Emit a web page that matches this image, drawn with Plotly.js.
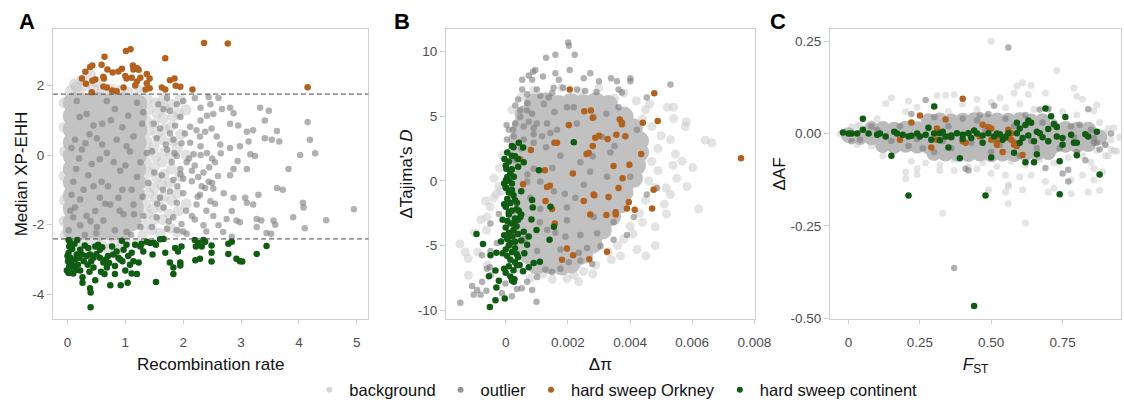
<!DOCTYPE html>
<html>
<head>
<meta charset="utf-8">
<script src="https://cdn.plot.ly/plotly-3.0.1.min.js"></script>
<style>html,body{margin:0;padding:0;background:#fff;}#chart{width:1124px;height:410px;}</style>
</head>
<body>
<div id="chart"></div>
<script>
// ---------- Panel A: recombination rate vs median XP-EHH ----------
const thrHighA = 1.75;
const thrLowA = -2.41;
const bgA_dense = [
[0.1,1.5],[0.32,1.48],[0.54,1.51],[0.76,1.49],[0.98,1.5],[1.2,1.46],
[0.1,1.12],[0.32,1.1],[0.54,1.13],[0.76,1.11],[0.98,1.08],[1.2,1.12],
[0.1,0.74],[0.32,0.72],[0.54,0.75],[0.76,0.73],[0.98,0.76],[1.2,0.72],
[0.1,0.36],[0.32,0.34],[0.54,0.38],[0.76,0.35],[0.98,0.37],[1.19,0.34],
[0.1,-0.02],[0.32,0.0],[0.54,-0.03],[0.76,-0.01],[0.98,-0.04],[1.19,-0.02],
[0.1,-0.4],[0.32,-0.38],[0.54,-0.41],[0.76,-0.39],[0.98,-0.42],[1.18,-0.4],
[0.1,-0.78],[0.32,-0.76],[0.54,-0.79],[0.76,-0.77],[0.98,-0.8],[1.18,-0.78],
[0.1,-1.16],[0.32,-1.14],[0.54,-1.17],[0.76,-1.15],[0.98,-1.18],[1.16,-1.14],
[0.1,-1.54],[0.32,-1.52],[0.54,-1.55],[0.76,-1.53],[0.97,-1.56],[1.14,-1.52],
[0.1,-1.92],[0.32,-1.9],[0.54,-1.93],[0.76,-1.91],[0.96,-1.94],[1.1,-1.9],
[0.1,-2.16],[0.32,-2.15],[0.54,-2.17],[0.76,-2.16],[0.94,-2.14]
];
const bgA_sparse = [
[1.38,1.6],[1.4,1.3],[1.36,1.0],[1.4,0.7],[1.37,0.4],[1.41,0.1],[1.36,-0.2],[1.4,-0.5],[1.36,-0.8],[1.4,-1.1],[1.35,-1.4],[1.38,-1.7],[1.34,-2.0],[1.3,-2.3],
[1.52,1.5],[1.55,1.2],[1.5,0.9],[1.54,0.6],[1.5,0.25],[1.53,-0.05],[1.5,-0.35],[1.54,-0.65],[1.5,-0.95],[1.52,-1.25],[1.48,-1.55],[1.5,-1.85],[1.46,-2.15],
[1.66,1.62],[1.68,1.35],[1.65,1.05],[1.68,0.75],[1.64,0.45],[1.68,0.1],[1.64,-0.2],[1.67,-0.55],[1.63,-0.85],[1.66,-1.2],[1.62,-1.5],[1.64,-1.85],[1.6,-2.25],
[1.8,1.45],[1.82,1.1],[1.78,0.8],[1.82,0.4],[1.78,0.0],[1.8,-0.4],[1.76,-0.8],[1.8,-1.3],[1.76,-1.7],[1.78,-2.1],
[1.95,1.6],[1.92,1.2],[1.96,0.6],[1.9,0.2],[1.94,-0.6],[1.9,-1.1],[1.92,-1.6],[1.9,-2.2],[2.05,1.3],[2.05,0.0],[2.05,-1.4],
[0.05,1.85],[0.15,1.95],[0.3,2.0],[0.45,1.9],[0.6,1.85],[0.75,1.9],[0.9,1.85],[0.25,2.15],[0.5,2.1],[0.2,1.8],[1.05,1.8],[0.4,2.3],[1.25,1.85],[0.12,2.05],
[0.2,-2.55],[0.4,-2.5],[0.6,-2.6],[0.8,-2.55],[1.0,-2.5],[0.3,-2.7],[0.1,-2.65],[0.7,-2.7],[1.2,-2.55],[0.5,-2.75],[0.9,-2.7],
[-0.06,1.5],[-0.06,0.8],[-0.05,0.1],[-0.06,-0.6],[-0.05,-1.3],[-0.06,-1.9],[-0.04,-2.3]
];
const outA = [
[2.2,1.64],[2.44,1.67],[2.61,1.64],[2.47,1.46],[2.3,1.36],[2.41,1.13],[2.3,0.99],[2.52,1.18],[2.67,1.32],[2.81,1.36],[2.87,1.2],[2.81,0.9],[2.95,0.85],
[3.1,0.67],[3.21,0.71],[3.33,1.36],[3.41,0.99],[3.48,1.27],[3.62,0.69],[3.53,0.44],[3.41,0.48],[3.66,0.39],[3.82,-0.4],[4.02,0.0],[4.15,0.95],[4.19,0.44],[4.28,0.05],
[2.64,0.3],[2.81,0.2],[2.98,0.25],[3.13,0.39],[3.16,0.02],[3.24,-0.03],[2.94,-0.17],[3.1,-0.4],[2.87,-0.4],[2.81,-0.58],[2.55,-0.21],[2.41,0.06],[2.3,0.0],[2.18,0.02],
[2.06,-0.21],[2.15,-0.45],[2.0,-0.68],[2.26,-0.63],[2.44,-0.77],[2.52,-0.96],[2.58,0.53],[2.49,0.76],[2.38,0.67],[2.29,0.53],[2.23,0.71],[2.12,0.81],[2.03,0.62],
[1.97,0.34],[1.83,0.44],[1.77,0.62],[1.86,0.85],[1.95,1.09],[1.77,1.27],[1.66,1.32],[1.89,1.46],[2.0,1.55],[1.57,1.46],[1.72,1.64],[1.49,0.9],[1.6,0.76],[1.54,0.48],
[1.46,0.11],[1.72,0.16],[1.89,-0.03],[1.95,-0.4],[1.83,-0.72],[1.63,-0.58],
[0.21,1.09],[0.33,1.18],[0.45,0.85],[0.51,0.48],[0.31,0.34],[0.13,0.44],[0.07,0.2],[0.25,0.16],[0.42,-0.26],[0.56,-0.12],[0.68,0.06],[0.85,0.44],[1.02,0.25],
[1.14,0.53],[1.29,0.9],[1.31,1.23],[0.82,1.32],[0.68,1.55],[1.05,1.13],[0.16,1.55],[0.36,-0.58],[0.59,-0.77],[0.91,-0.45],[1.26,-0.21],[1.37,0.06],[1.2,-0.63],
[0.1,-0.77],[0.28,-1.0],
[0.07,-1.14],[0.22,-1.28],[0.13,-1.51],[0.1,-1.79],[0.02,-2.16],[0.22,-2.02],[0.33,-1.75],[0.51,-2.07],[0.62,-1.88],[0.48,-1.61],[0.74,-1.42],[0.56,-1.23],
[0.88,-1.23],[0.97,-1.7],[1.11,-1.0],[1.14,-1.42],[1.31,-1.75],[1.26,-2.07],[1.46,-2.07],[1.02,-2.21],[0.82,-2.16],[1.54,-1.79],[1.66,-1.51],[1.6,-1.23],
[1.77,-1.05],[1.89,-1.37],[1.83,-1.79],[1.97,-1.98],[2.06,-2.26],[1.89,-2.16],[1.72,-2.12],[2.15,-1.75],[2.23,-1.42],[2.29,-1.14],[2.38,-0.95],[2.47,-1.33],
[2.52,-1.75],[2.35,-2.02],[2.61,-2.02],[2.69,-2.21],[2.75,-1.84],[2.84,-1.61],[2.92,-1.88],[2.87,-1.23],[2.98,-1.93],[3.1,-1.37],[3.21,-1.42],[3.07,-1.23],
[3.3,-1.14],[3.27,-1.84],[3.35,-1.88],[3.27,-2.07],[3.44,-2.24],[3.52,-2.26],[3.56,-1.88],[3.59,-2.0],[3.62,-0.95],[3.72,-1.0],[3.9,-1.79],[4.07,-1.37],
[4.08,-1.51],[4.1,-2.1],[4.47,-1.87],[4.95,-1.56],[2.84,-2.35],
[0.05,-1.6],[0.15,-0.4],[0.4,-1.9],[0.7,-0.9],[0.9,-1.6],[1.0,-0.3],[1.1,-2.3],[1.3,-1.2],[1.4,-0.8],[0.6,0.9],[0.95,0.8],[1.2,1.5],[0.3,-2.3],[0.5,-2.25],
[1.8,-0.2],[1.9,-0.9],[2.0,-1.1],[2.1,-0.1],[2.2,-0.3],[2.25,-1.2],[2.35,-0.5],[2.4,-1.6],[2.5,-0.1],[2.55,-1.4],[2.6,-0.6],[2.7,-1.1],[2.05,-1.6],[1.75,-1.9],
[1.65,-1.0],[1.7,0.3],[2.12,0.35],[2.3,0.25],[2.45,-0.35],[2.65,0.05],[1.85,0.05],[1.95,-0.55],[2.15,-0.75],[2.32,-0.9],[2.5,-0.8],[2.2,-1.85],[2.0,-2.2],[2.4,-2.2],
[1.55,-1.4],[1.5,-0.5],[0.8,-0.2],[0.38,0.6],[0.75,1.0],[1.15,-1.7],[0.65,-1.4],[0.2,-0.1],[0.95,-1.0],[0.45,-0.9],[1.08,0.1],[0.6,0.3]
];
const orkA = [
[0.25,2.2],[0.31,2.39],[0.32,2.05],[0.39,2.53],[0.43,2.57],[0.43,2.13],[0.42,1.8],[0.48,2.17],[0.59,2.59],[0.64,2.82],[0.62,2.25],[0.63,2.2],[0.62,1.97],
[0.69,2.46],[0.68,1.94],[0.78,2.37],[0.77,1.85],[0.85,1.83],[0.88,2.4],[0.94,2.48],[0.97,1.94],[1.01,2.99],[1.09,3.04],[1.0,2.27],[1.02,2.2],[1.13,2.57],
[1.14,2.46],[1.2,2.5],[1.23,2.45],[1.11,2.22],[1.2,2.11],[1.17,2.0],[1.26,2.22],[1.37,2.33],[1.42,2.2],[1.37,2.06],[1.42,1.92],[1.35,1.88],[1.69,2.78],
[1.63,1.94],[1.69,1.88],[1.77,2.15],[1.85,2.2],[1.87,1.99],[1.95,1.96],[2.16,1.88],[2.36,3.22],[2.77,3.2],[4.15,1.95]
];
const conA = [
[0.02,-2.44],[0.03,-2.63],[0.02,-2.81],[0.05,-2.95],[-0.01,-3.32],[0.02,-3.39],[0.07,-3.37],[0.1,-3.19],[0.06,-3.09],[0.13,-3.0],[0.16,-2.86],[0.17,-2.44],
[0.22,-2.72],[0.25,-2.86],[0.28,-3.05],[0.22,-3.32],[0.26,-3.51],[0.26,-3.67],[0.39,-3.83],[0.4,-3.95],[0.4,-4.37],[0.48,-3.6],[0.38,-3.35],[0.45,-3.23],
[0.41,-3.05],[0.39,-2.86],[0.36,-2.67],[0.48,-2.63],[0.53,-2.58],[0.56,-2.72],[0.56,-2.95],[0.62,-3.09],[0.68,-3.23],[0.64,-3.42],[0.74,-3.74],[0.82,-3.42],
[0.82,-3.19],[0.79,-2.86],[0.77,-2.63],[0.85,-2.77],[0.91,-3.0],[0.92,-3.74],[1.0,-3.32],[1.04,-3.67],[0.97,-2.72],[1.02,-2.58],[0.94,-2.46],[1.11,-2.81],
[1.14,-3.05],[1.2,-3.42],[1.11,-3.4],[1.17,-2.58],[1.26,-2.63],[1.23,-3.09],[1.31,-2.77],[1.28,-2.55],[1.37,-2.49],[1.43,-2.53],[1.49,-2.52],[1.47,-2.86],
[1.53,-2.58],[1.53,-3.65],[1.6,-2.42],[1.66,-2.41],[1.69,-2.81],[1.77,-3.09],[1.83,-3.23],[1.83,-3.42],[1.86,-2.67],[1.91,-2.77],[1.95,-3.09],[1.97,-2.63],
[1.95,-3.17],[2.2,-2.44],[2.22,-2.63],[2.26,-2.53],[2.21,-3.02],[2.29,-2.98],[2.35,-2.44],[2.38,-2.49],[2.32,-2.63],[2.49,-2.6],[2.49,-2.81],[2.49,-3.06],
[2.78,-2.55],[2.84,-2.49],[2.78,-2.84],[2.92,-2.98],[2.98,-3.05],[3.02,-3.06],[3.27,-2.84],[3.44,-2.61],
[0.0,-2.9],[0.01,-3.05],[0.03,-3.2],[0.08,-2.7],[0.12,-2.55],[0.04,-2.5],[0.15,-3.3],[0.18,-3.15],[0.2,-2.95],[0.3,-2.6],[0.33,-2.9],[0.5,-2.85],[0.6,-2.65],
[0.7,-2.9],[0.72,-3.1],[0.88,-2.95],[0.95,-3.05],[1.05,-2.9],[1.08,-3.15],[0.58,-3.35],[0.66,-3.0],[0.45,-2.95],[0.35,-3.15],[0.1,-3.4],[0.06,-2.6]
];

// ---------- Panel B: delta pi vs delta Tajima's D ----------
const bgB_dense = [
[0.0009,6.0],[0.0013,6.1],[0.0017,5.9],[0.0021,6.05],[0.0025,5.95],[0.0029,6.1],[0.0033,5.9],
[0.0006,5.1],[0.001,5.2],[0.0014,5.05],[0.0018,5.15],[0.0022,5.1],[0.0026,5.2],[0.003,5.05],[0.0034,5.15],[0.0038,5.0],
[0.0005,4.2],[0.0009,4.25],[0.0013,4.15],[0.0017,4.3],[0.0021,4.2],[0.0025,4.1],[0.0029,4.25],[0.0033,4.2],[0.0037,4.15],[0.0041,4.1],
[0.0004,3.2],[0.0008,3.15],[0.0012,3.25],[0.0016,3.2],[0.002,3.1],[0.0024,3.2],[0.0028,3.3],[0.0032,3.15],[0.0036,3.2],[0.004,3.25],[0.0043,3.1],
[0.00035,2.2],[0.00075,2.25],[0.00115,2.15],[0.00155,2.2],[0.00195,2.3],[0.00235,2.2],[0.00275,2.1],[0.00315,2.2],[0.00355,2.25],[0.00395,2.15],[0.0043,2.2],
[0.00035,1.2],[0.00075,1.15],[0.00115,1.25],[0.00155,1.2],[0.00195,1.1],[0.00235,1.2],[0.00275,1.3],[0.00315,1.2],[0.00355,1.15],[0.00395,1.25],[0.0042,1.2],
[0.00035,0.2],[0.00075,0.25],[0.00115,0.15],[0.00155,0.2],[0.00195,0.3],[0.00235,0.2],[0.00275,0.1],[0.00315,0.2],[0.00355,0.25],[0.00395,0.15],[0.0041,0.2],
[0.00035,-0.8],[0.00075,-0.75],[0.00115,-0.85],[0.00155,-0.8],[0.00195,-0.7],[0.00235,-0.8],[0.00275,-0.9],[0.00315,-0.8],[0.00355,-0.75],[0.0038,-0.85],
[0.00035,-1.8],[0.00075,-1.85],[0.00115,-1.75],[0.00155,-1.8],[0.00195,-1.9],[0.00235,-1.8],[0.00275,-1.7],[0.00315,-1.8],[0.00355,-1.85],[0.0037,-1.75],
[0.0004,-2.8],[0.0008,-2.75],[0.0012,-2.85],[0.0016,-2.8],[0.002,-2.7],[0.0024,-2.8],[0.0028,-2.9],[0.0032,-2.8],[0.0034,-2.75],
[0.00045,-3.8],[0.00085,-3.85],[0.00125,-3.75],[0.00165,-3.8],[0.00205,-3.9],[0.00245,-3.8],[0.00285,-3.7],[0.0031,-3.8],
[0.00055,-4.8],[0.00095,-4.75],[0.00135,-4.85],[0.00175,-4.8],[0.00215,-4.7],[0.00255,-4.8],[0.0028,-4.85],
[0.00075,-5.7],[0.00115,-5.75],[0.00155,-5.65],[0.00195,-5.7],[0.00235,-5.8],[0.0025,-5.65],
[0.001,-6.5],[0.0014,-6.45],[0.0018,-6.55],[0.0021,-6.4]
];
const bgB_sparse = [
[-0.00147,-4.88],[-0.00121,-6.0],[-0.00065,-1.55],[-0.0006,-2.8],[-0.00038,-1.3],[-0.0012,-7.3],[-0.00062,-3.8],[0.00235,-7.8],[0.00197,-7.55],
[0.00369,-5.8],[0.00422,-5.3],[0.00451,-5.8],[0.00481,-5.0],[0.00481,-3.55],[0.00517,-2.55],[0.0053,-1.05],[0.00621,-2.18],[0.00583,-0.43],[0.00516,-0.55],
[0.0054,4.83],[0.00581,4.58],[0.00578,4.2],[0.00663,2.95],[0.00642,3.15],[0.00546,2.08],[0.00602,1.03],[0.00567,1.53],[0.00538,1.2],[0.0052,5.7],[0.0054,5.7],
[0.00463,5.95],[-0.00038,0.2],[-0.00022,-0.43],[-0.00015,-0.8],
[0.005,3.5],[0.0049,2.5],[0.0047,1.5],[0.0046,0.0],[0.0048,-0.5],[0.0045,-1.5],[0.0043,-2.5],[0.004,-3.5],[0.0038,-4.5],[0.0033,-5.5],[0.0029,-6.5],
[0.0025,-7.0],[0.0015,-7.6],[0.0008,-7.5],[0.0045,5.5],[0.0042,6.2],[0.0038,6.8],[0.003,7.2],[0.0018,7.2],[0.0005,6.5],[0.0002,5.5],[0.0001,-5.0],
[0.0002,-6.0],[0.0004,-6.8],[-0.0001,2.0],[-0.0002,1.0],[-0.0003,-1.0],[-0.0005,-2.0],[-0.0008,-3.0],[-0.001,-4.0],[-0.0009,-5.5],[-0.0006,-6.5],
[-0.0013,-5.5],[0.0053,3.2],[0.0055,0.2],[0.0051,-1.8],[0.0044,4.8],[0.0036,-5.0],[0.0022,-7.3],
[0.0047,4.2],[0.0049,0.8],[0.0044,-3.2],[0.0041,-4.1],[0.0034,-6.1],[0.0028,-7.2],[0.0012,-7.2],[0.0024,6.9],[0.0035,6.4],[0.0009,7.0]
];
const outB = [
[0.00201,10.7],[0.00203,10.45],[0.00222,9.75],[0.0013,9.53],[0.0016,9.75],[0.00095,8.58],[0.00088,8.45],[0.00206,8.58],[0.0016,8.33],[0.00074,8.15],
[0.0012,8.08],[0.00171,7.83],[0.00053,7.83],[0.00085,7.83],[0.00251,7.95],[0.00272,8.33],[0.003,7.7],[0.00339,7.95],[0.00358,7.7],[0.00401,7.95],
[0.00401,7.7],[0.0053,7.45],[0.00053,7.08],[0.001,7.08],[0.00154,7.2],[0.00184,7.2],[0.00229,7.08],[0.00256,6.95],[0.00292,6.88],[0.00363,7.08],
[0.00374,6.83],[0.00454,6.45],[0.00069,6.7],[0.00111,6.58],[0.00138,6.45],[0.00031,5.83],[0.00047,5.45],[0.00069,5.45],[0.00085,5.2],[0.00123,5.95],
[0.00157,5.33],[0.00197,5.7],[0.00219,5.7],[0.00324,5.2],[0.00363,5.7],[0.00003,4.33],[0.0001,3.95],[0.00024,3.95],[0.00031,4.45],[0.00047,4.95],
[0.00058,4.2],[0.00074,4.58],[0.0009,4.08],[0.001,4.45],[0.00133,4.45],[0.00144,3.7],[0.00004,3.2],[0.00026,3.45],[0.00058,3.2],[0.0009,2.95],
[0.00117,3.45],[0.00165,3.95],[0.00229,4.45],[0.00283,4.95],[0.00176,1.95],[0.0024,1.45],[0.00272,0.7],[0.00326,0.33],[0.00337,2.2],[0.00422,3.95],
[0.00401,0.33],[0.0009,0.95],[0.00111,-0.05],[0.00069,-0.05],[0.00251,-0.3],
[-0.00146,-9.43],[-0.00108,-8.13],[-0.00092,-8.43],[-0.00103,-8.8],[-0.00081,-8.8],[-0.00076,-7.8],[-0.00062,-8.5],[-0.00049,-7.3],[-0.0006,-6.8],
[-0.00051,-6.68],[-0.00012,-8.68],[-0.00001,-7.93],[0.0002,-8.93],[0.00036,-8.35],[0.00052,-8.3],[0.00069,-7.8],[0.00085,-8.43],[0.00099,-9.35],
[0.00101,-7.43],[0.00128,-6.85],[0.00149,-7.05],[0.00176,-6.8],[0.00203,-6.3],[0.0024,-6.18],[0.00278,-6.43],[0.00235,-5.55],[0.00176,-5.3],
[0.00101,-5.43],[0.00262,-5.18],[0.00305,-5.05],[0.00347,-4.55],[0.0039,-4.18],[0.00294,-4.05],[0.0024,-4.18],[0.00192,-4.3],[0.00133,-3.8],
[0.00197,-3.05],[0.00283,-2.8],[0.00347,-3.18],[0.00412,-2.8],[0.00454,-1.05],[0.00487,-0.55],[0.00224,-1.3],[0.00197,-2.05],[0.00155,-0.8],
[0.00079,-1.3],[0.00111,-2.18],[-0.00049,-3.3],[-0.00022,-2.55],[-0.00028,-4.8],[-0.00076,-5.75],[-0.00049,-5.43],
[0.0004,6.3],[0.0007,6.0],[0.0015,6.8],[0.0009,3.6],[0.0005,2.5],[0.0013,2.6],[0.0003,1.6],[0.0007,0.5],[0.0015,1.0],[0.0019,-1.0],[0.0028,1.9],
[0.0031,3.4],[0.0035,2.7],[0.0011,-3.2],[0.0006,-4.5],[0.0016,-4.0]
];
const orkB = [
[0.00206,7.08],[0.00478,6.78],[0.00253,5.38],[0.00274,5.45],[0.0028,4.88],[0.00203,4.33],[0.00367,4.75],[0.00374,4.38],[0.00374,4.5],[0.00441,4.5],
[0.00489,4.63],[0.00356,3.58],[0.00385,3.45],[0.00301,3.5],[0.00288,3.33],[0.00328,3.25],[0.00157,2.95],[0.00165,2.95],[0.0028,2.7],[0.0026,2.08],
[0.00267,2.15],[0.00081,2.4],[0.00436,2.08],[0.00347,1.15],[0.00398,1.25],[0.00757,1.75],[0.00126,0.83],[0.00216,0.58],[0.00376,0.2],[0.00056,-0.25],
[0.00133,-0.48],[0.00142,-0.38],[0.00283,-1.05],[0.00363,-0.55],[0.00476,-0.68],[0.00045,1.7],
[0.00128,-1.55],[0.00149,-2.18],[0.00251,-1.55],[0.00285,-1.1],[0.00331,-1.25],[0.00396,-1.63],[0.0039,-2.13],[0.00415,-2.23],[0.00471,-2.13],
[0.00272,-2.6],[0.00324,-2.63],[0.00354,-2.43],[0.00354,-2.6],[0.00158,-3.3],[0.00026,-4.2],[0.00197,-5.23],[0.00217,-5.75],[0.00181,-6.1],
[0.00269,-6.05],[0.00326,-5.48]
];
const conB = [
[0.0002,2.7],[0.00042,2.95],[0.00056,2.58],[-0.00004,1.7],[0.0002,1.95],[0.00039,1.7],[0.00058,1.45],[0.00002,0.95],[0.00015,0.83],[0.00026,0.33],
[0.00001,0.08],[0.00107,0.83],[0.00219,3.0],[0.00002,-0.55],
[-0.00094,-4.1],[-0.00073,-4.88],[-0.00049,-5.75],[-0.00054,-7.38],[-0.0003,-5.55],[-0.00033,-6.93],[-0.00022,-7.73],[-0.0003,-8.25],[-0.00033,-9.23],
[-0.00051,-9.75],[-0.00003,-9.1],[0.00026,-7.8],[0.00028,-7.6],[0.00036,-6.5],[0.00056,-6.98],[0.00074,-6.68],[0.0009,-6.35],[0.0011,-6.25],
[0.00058,-3.93],[0.00074,-4.3],[0.00083,-2.98],[0.00099,-3.8],[0.00085,-1.48],[0.00087,-2.05],[0.00036,-1.68],[0.00042,-2.3],[0.00026,-3.3],
[0.00047,-2.8],[0.00069,-4.93],[0.00144,-2.0],[0.00155,-3.55],[0.00141,-4.55],[-0.00015,-4.68],[0.00036,-5.68],
[0.00005,2.2],[0.0001,1.5],[0.0,1.2],[0.00015,0.6],[0.00005,0.3],[0.0002,-0.2],[0.0,-0.5],[0.0001,-0.9],[0.00025,-1.1],[0.00005,-1.4],[0.00015,-1.7],
[0.0,-2.0],[0.0002,-2.3],[0.0001,-2.6],[0.0003,-2.9],[0.00005,-3.1],[0.00015,-3.3],[0.0,-3.6],[0.00025,-3.8],[0.0001,-4.0],[0.0002,-4.3],[0.00005,-4.5],
[0.0003,-4.7],[0.0001,-5.0],[0.0,-5.3],[0.0002,-5.5],[0.00005,-5.8],[0.00015,-6.1],[0.0003,-6.3],[0.0001,-6.6],[0.00025,-6.9],[0.0,-7.1],[0.00015,-7.4],
[0.0002,-7.7],[0.0002,-0.7],[0.0003,-1.5],[0.00035,-2.2],[0.0004,-3.0],[0.00035,-3.5],[0.0004,-4.1],[0.0003,-5.2],[0.0004,-5.9],[0.00045,-6.5],
[-0.00005,-0.2],[-0.00005,-1.8],[-0.0001,-3.0],[-0.00005,-4.2],[-0.0001,-5.6],[-0.00005,-6.8],[0.0001,0.0],[0.0002,0.9],[0.0003,1.9],[0.00025,2.6],
[0.0004,1.1],[0.0005,-0.8],[0.0005,-2.6],[0.0005,-4.6],[0.0006,-5.6],[0.0001,-2.4],[0.00015,-4.8]
];

// ---------- Panel C: FST vs delta AF ----------
const bgC_dense = [
[0.28,0.034],[0.32,0.036],[0.36,0.033],[0.4,0.035],[0.44,0.037],[0.48,0.034],[0.52,0.036],[0.56,0.035],[0.6,0.037],[0.64,0.033],[0.68,0.034],
[0.08,0.012],[0.12,0.013],[0.16,0.011],[0.2,0.014],[0.24,0.012],[0.28,0.013],[0.32,0.011],[0.36,0.014],[0.4,0.012],[0.44,0.013],[0.48,0.011],[0.52,0.014],
[0.56,0.012],[0.6,0.013],[0.64,0.011],[0.68,0.014],[0.72,0.012],[0.76,0.013],[0.8,0.01],[0.84,0.011],
[0.0,-0.004],[0.04,-0.01],[0.08,-0.011],[0.12,-0.009],[0.16,-0.012],[0.2,-0.01],[0.24,-0.011],[0.28,-0.009],[0.32,-0.012],[0.36,-0.01],[0.4,-0.011],
[0.44,-0.009],[0.48,-0.012],[0.52,-0.01],[0.56,-0.011],[0.6,-0.009],[0.64,-0.012],[0.68,-0.01],[0.72,-0.011],[0.76,-0.009],[0.8,-0.012],[0.84,-0.01],
[0.88,-0.01],
[0.12,-0.032],[0.16,-0.034],[0.2,-0.031],[0.24,-0.033],[0.28,-0.035],[0.32,-0.032],[0.36,-0.034],[0.4,-0.033],[0.44,-0.035],[0.48,-0.032],[0.52,-0.034],
[0.56,-0.033],[0.6,-0.035],[0.64,-0.032],[0.68,-0.034],[0.72,-0.033],[0.76,-0.031],[0.8,-0.032],[0.84,-0.029],
[0.3,-0.053],[0.34,-0.055],[0.38,-0.054],[0.42,-0.056],[0.46,-0.055],[0.5,-0.057],[0.54,-0.055],[0.58,-0.056],[0.62,-0.054],[0.66,-0.053],[0.7,-0.051]
];
const bgC_sparse = [
[0.5,0.25],[0.73,0.171],[0.61,0.138],[0.59,0.128],[0.64,0.13],[0.79,0.123],[0.69,0.11],[0.63,0.106],[0.58,0.11],[0.53,0.097],[0.45,0.093],[0.37,0.106],
[0.34,0.104],[0.31,0.103],[0.15,0.097],[0.13,0.081],[0.21,0.088],[0.24,0.071],[0.8,0.101],[0.82,0.093],[0.86,0.062],[0.91,0.014],[0.9,0.001],[0.92,-0.017],
[0.92,-0.043],[0.9,-0.06],[0.85,-0.078],[0.86,-0.095],[0.82,-0.113],[0.78,-0.126],[0.69,-0.13],[0.6,-0.117],[0.56,-0.139],[0.55,-0.113],[0.5,-0.108],
[0.45,-0.095],[0.37,-0.1],[0.32,-0.1],[0.24,-0.095],[0.2,-0.122],[0.2,-0.104],[0.24,-0.111],[0.01,0.018],[0.0,-0.017],[0.04,0.023],[0.08,0.027],
[0.08,-0.034],[0.13,-0.03],[0.16,-0.047],
[0.33,-0.216],[0.62,-0.242],[0.56,-0.19],[0.49,-0.152],[0.55,-0.158],[0.61,-0.152],[0.7,-0.158],[0.78,-0.163],[0.84,-0.158],[0.88,-0.154],[0.56,-0.143],[0.72,-0.148],
[0.87,0.078],[0.93,0.016],[0.94,-0.047],[0.93,-0.047],[0.91,-0.06],[0.89,-0.104],[0.86,-0.126],[0.64,-0.113],
[0.1,0.04],[0.2,0.06],[0.3,0.075],[0.4,0.08],[0.5,0.085],[0.6,0.08],[0.7,0.07],[0.8,0.05],[0.88,0.03],[0.12,-0.06],[0.22,-0.075],[0.32,-0.085],
[0.42,-0.09],[0.52,-0.09],[0.62,-0.085],[0.72,-0.08],[0.82,-0.06],[0.9,-0.03],[0.35,0.06],[0.45,0.065],[0.55,0.07],[0.65,0.065],[0.75,0.06],
[0.27,-0.08],[0.37,-0.07],[0.47,-0.08],[0.57,-0.075],[0.67,-0.07],[0.77,-0.065],[0.87,-0.045],[0.03,0.02],[0.03,-0.03],[-0.03,0.0],[0.95,-0.01],[0.97,-0.02]
];
const outC = [
[0.56,0.233],[0.27,0.091],[0.22,0.053],[0.3,0.045],[0.49,0.053],[0.51,0.075],[0.7,0.066],[0.81,0.024],[0.84,0.066],[0.01,-0.021],[0.04,-0.017],
[0.21,-0.034],[0.41,-0.095],[0.42,-0.1],[0.69,-0.093],[0.75,-0.108],[0.77,-0.13],[0.88,-0.043],[0.87,-0.025],[0.86,-0.012],[0.37,-0.364],
[0.67,0.065],[0.86,-0.025],[0.83,-0.072],[0.77,-0.098],
[0.1,0.01],[0.18,0.02],[0.26,-0.04],[0.35,0.02],[0.45,0.035],[0.55,0.04],[0.6,-0.06],[0.62,0.05],[0.66,-0.04],[0.72,0.03],[0.78,0.02],[0.8,-0.05],
[0.85,0.01],[0.9,-0.03],[0.5,-0.05],[0.4,0.04],[0.3,-0.05],[0.15,-0.02],[0.08,0.02],[0.92,0.0],
[0.24,-0.015],[0.33,-0.02],[0.43,-0.025],[0.48,0.01],[0.53,-0.03],[0.58,0.02],[0.64,-0.02],[0.68,0.03],[0.74,-0.04],[0.79,-0.01],[0.36,-0.04],[0.46,0.05]
];
const orkC = [
[0.4,0.094],[0.25,0.049],[0.22,0.03],[0.34,0.038],[0.31,0.014],[0.18,-0.017],[0.29,-0.038],[0.31,-0.017],[0.35,-0.008],[0.4,-0.021],[0.41,-0.025],
[0.46,-0.008],[0.47,0.024],[0.49,0.018],[0.5,0.014],[0.52,-0.025],[0.52,-0.03],[0.52,-0.008],[0.54,-0.05],[0.55,-0.008],[0.56,0.01],[0.57,0.001],
[0.57,-0.017],[0.58,-0.024],[0.58,-0.03],[0.59,-0.034],[0.61,-0.058],[0.56,-0.012],[0.5,-0.017]
];
const conC = [
[-0.02,0.003],[0.0,0.0],[0.01,0.0],[0.03,0.0],[0.05,0.01],[0.05,0.04],[0.07,0.0],[0.1,-0.003],[0.11,0.0],[0.13,-0.008],[0.15,-0.06],[0.16,0.005],
[0.17,0.0],[0.19,-0.003],[0.21,-0.008],[0.22,-0.006],[0.24,0.0],[0.25,-0.008],[0.27,-0.003],[0.28,0.016],[0.29,-0.017],[0.3,0.073],[0.3,0.0],
[0.32,-0.018],[0.32,0.001],[0.34,-0.008],[0.35,-0.038],[0.36,-0.01],[0.38,0.001],[0.39,-0.067],[0.4,-0.003],[0.42,0.001],[0.43,-0.012],[0.45,0.0],
[0.47,-0.025],[0.49,0.001],[0.5,-0.065],[0.51,-0.008],[0.53,-0.002],[0.54,-0.017],[0.56,0.001],[0.58,-0.052],[0.59,0.029],[0.59,0.001],[0.6,0.014],
[0.61,-0.012],[0.62,0.023],[0.62,-0.078],[0.64,0.029],[0.65,-0.021],[0.65,-0.078],[0.66,-0.056],[0.67,0.001],[0.69,0.068],[0.7,-0.021],[0.71,0.047],
[0.72,0.025],[0.73,-0.008],[0.73,0.018],[0.74,-0.075],[0.75,-0.03],[0.76,0.045],[0.78,-0.003],[0.79,-0.025],[0.8,-0.025],[0.8,-0.059],[0.83,-0.002],
[0.84,-0.008],[0.87,0.005],[0.88,-0.111],
[0.21,-0.168],[0.48,-0.168],[0.74,-0.164],[0.44,-0.467],
[0.33,0.005],[0.36,-0.005],[0.4,-0.015],[0.44,0.008],[0.47,-0.005],[0.52,0.0],[0.55,-0.01],[0.6,-0.025],[0.63,-0.005],[0.68,-0.01],[0.7,0.012],
[0.75,-0.012],[0.63,0.035],[0.66,0.005]
];

// ---------- Categories and tick labels ----------
const categories = ['background', 'outlier', 'hard sweep Orkney', 'hard sweep continent'];
const colors = {
  'background': 'rgb(214,214,214)',
  'outlier': 'rgb(150,150,150)',
  'hard sweep Orkney': '#b3611f',
  'hard sweep continent': '#0f5c12'
};
const tickA_x = [0,1,2,3,4,5], tickA_xText = ['0','1','2','3','4','5'];
const tickA_y = [-4,-2,0,2], tickA_yText = ['-4','-2','0','2'];
const tickB_x = [0,0.002,0.004,0.006,0.008], tickB_xText = ['0','0.002','0.004','0.006','0.008'];
const tickB_y = [-10,-5,0,5,10], tickB_yText = ['-10','-5','0','5','10'];
const tickC_x = [0,0.25,0.5,0.75], tickC_xText = ['0','0.25','0.50','0.75'];
const tickC_y = [-0.5,-0.25,0,0.25], tickC_yText = ['-0.50','-0.25','0.00','0.25'];

// ---------- build traces ----------
function tr(arr, ax, marker, group) {
  return {
    type: 'scatter', mode: 'markers',
    x: arr.map(p => p[0]), y: arr.map(p => p[1]),
    xaxis: 'x' + ax, yaxis: 'y' + ax,
    marker: Object.assign({line: {width: 0}}, marker),
    legendgroup: group, showlegend: false, hoverinfo: 'x+y'
  };
}
const outM = {color: 'rgba(125,125,125,0.6)', size: 6.5};
const orkM = {color: colors['hard sweep Orkney'], size: 6.5};
const conM = {color: colors['hard sweep continent'], size: 6.5};
const traces = [];
[['', bgA_sparse, bgA_dense, 21, 'rgb(195,195,195)', {color: 'rgba(196,196,196,0.5)', size: 11}, outA, orkA, conA],
 ['2', bgB_sparse, bgB_dense, 19.5, 'rgb(193,193,193)', {color: 'rgba(200,200,200,0.5)', size: 9}, outB, orkB, conB],
 ['3', bgC_sparse, bgC_dense, 15.5, 'rgb(186,186,186)', {color: 'rgba(205,205,205,0.55)', size: 7}, outC, orkC, conC]].forEach(function (p) {
  traces.push(tr(p[1], p[0], p[5], 'background'));
  traces.push(tr(p[2], p[0], {color: p[4], size: p[3]}, 'background'));
  traces.push(tr(p[6], p[0], outM, 'outlier'));
  traces.push(tr(p[7], p[0], orkM, 'hard sweep Orkney'));
  traces.push(tr(p[8], p[0], conM, 'hard sweep continent'));
});
categories.forEach(function (c) {
  traces.push({type: 'scatter', mode: 'markers', x: [null], y: [null], name: c,
    legendgroup: c, showlegend: true, marker: {color: colors[c], size: 6}});
});

const font = 'Liberation Sans, Arial, Helvetica, sans-serif';
function xax(domain, range, tv, tt, title, anchor) {
  return {domain: domain, range: range, tickvals: tv, ticktext: tt, anchor: anchor,
    showline: true, mirror: true, linecolor: '#cfcfcf', linewidth: 1,
    ticks: 'outside', ticklen: 4, tickcolor: '#cfcfcf', showgrid: false, zeroline: false,
    ticklabelstandoff: 7,
    tickfont: {family: font, size: 13.5, color: '#4d4d4d'},
    title: {text: title, font: {family: font, size: 17, color: '#111'}, standoff: 8}};
}
function yax(range, tv, tt, title, anchor) {
  return {domain: [0, 1], range: range, tickvals: tv, ticktext: tt, anchor: anchor,
    showline: true, mirror: true, linecolor: '#cfcfcf', linewidth: 1,
    ticks: 'outside', ticklen: 5, tickcolor: '#cfcfcf', showgrid: false, zeroline: false,
    tickfont: {family: font, size: 13.5, color: '#4d4d4d'},
    title: {text: title, font: {family: font, size: 17, color: '#111'}, standoff: 0}};
}
const layout = {
  width: 1124, height: 410,
  margin: {l: 53, r: 3, t: 29, b: 82},
  paper_bgcolor: '#fff', plot_bgcolor: '#fff',
  font: {family: font},
  xaxis: xax([0, 0.2953], [-0.25, 5.2], tickA_x, tickA_xText, 'Recombination rate', 'y'),
  yaxis: yax([-4.71, 3.62], tickA_y, tickA_yText, 'Median XP-EHH', 'x'),
  xaxis2: xax([0.368, 0.657], [-0.00192, 0.00801], tickB_x, tickB_xText, 'Δπ', 'y2'),
  yaxis2: yax([-10.68, 11.75], tickB_y, tickB_yText, "ΔTajima's <i>D</i>", 'x2'),
  xaxis3: xax([0.7276, 1], [-0.065, 0.955], tickC_x, tickC_xText, '<i>F</i><sub>ST</sub>', 'y3'),
  yaxis3: yax([-0.502, 0.283], tickC_y, tickC_yText, 'ΔAF', 'x3'),
  shapes: [thrHighA, thrLowA].map(v => ({type: 'line', xref: 'x domain', x0: 0, x1: 1, yref: 'y', y0: v, y1: v,
    line: {color: '#4a4a4a', width: 1, dash: '5px,3px'}})),
  annotations: [['A', -0.0248], ['B', 0.327], ['C', 0.679]].map(a => ({
    text: '<b>' + a[0] + '</b>', xref: 'paper', yref: 'paper', x: a[1], y: 1.025,
    xanchor: 'center', yanchor: 'middle', showarrow: false,
    font: {family: font, size: 22, color: '#000'}})),
  legend: {orientation: 'h', x: 0.527, xanchor: 'center', y: -0.245, yanchor: 'middle',
    font: {family: font, size: 16.5, color: '#111'}, itemwidth: 30, tracegroupgap: 0,
    bgcolor: 'rgba(0,0,0,0)'},
  showlegend: true
};
Plotly.newPlot('chart', traces, layout, {displayModeBar: false, staticPlot: true});
</script>
</body>
</html>
